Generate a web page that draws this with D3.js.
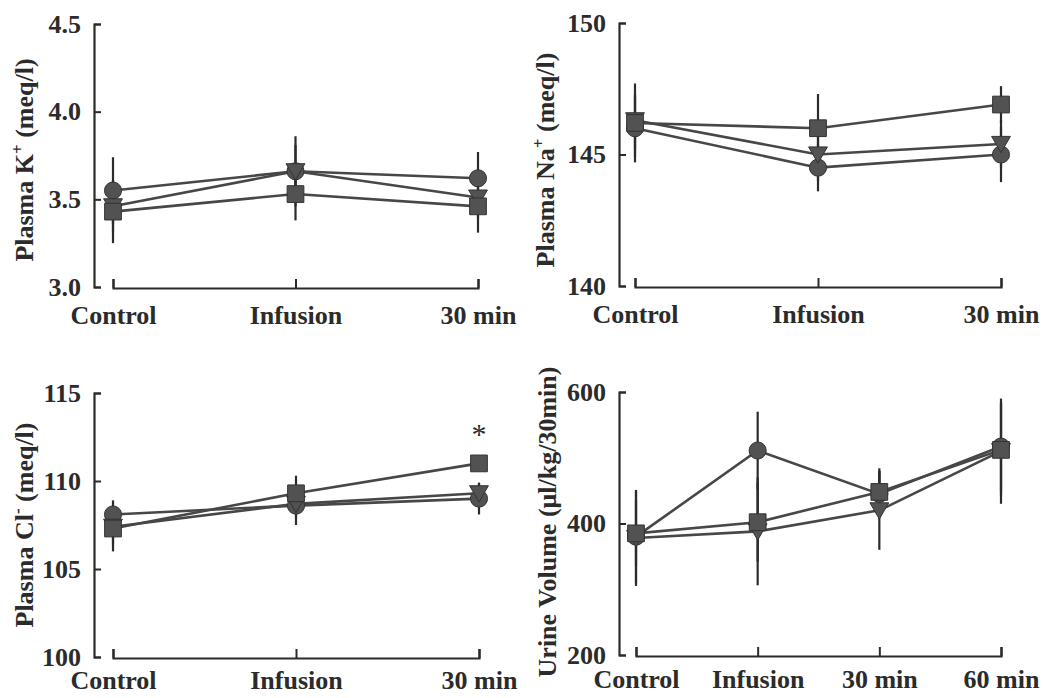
<!DOCTYPE html>
<html><head><meta charset="utf-8">
<script src="https://cdn.jsdelivr.net/npm/d3@7"></script>
<style>body{margin:0;background:#fff}</style>
</head><body>
<svg id="c" width="1043" height="698"></svg>
<script>
// ---- data ----
const catsA = ["Control", "Infusion", "30 min"];
const catsB = ["Control", "Infusion", "30 min", "60 min"];

const kTicks = [3.0, 3.5, 4.0, 4.5];
const kCircle = [3.55, 3.66, 3.62], kCircleErr = [0.19, 0.20, 0.15];
const kTri = [3.46, 3.66, 3.51], kTriErr = [0.15, 0.15, 0.12];
const kSquare = [3.43, 3.53, 3.46], kSquareErr = [0.18, 0.15, 0.15];

const naTicks = [140, 145, 150];
const naCircle = [146.0, 144.5, 145.0], naCircleErr = [1.3, 0.9, 1.05];
const naTri = [146.3, 145.0, 145.4], naTriErr = [1.4, 1.0, 0.9];
const naSquare = [146.2, 146.0, 146.9], naSquareErr = [1.0, 1.3, 0.7];

const clTicks = [100, 105, 110, 115];
const clCircle = [108.1, 108.6, 109.0], clCircleErr = [0.8, 1.1, 0.9];
const clTri = [107.4, 108.7, 109.3], clTriErr = [1.0, 0.8, 0.6];
const clSquare = [107.3, 109.3, 111.0], clSquareErr = [1.3, 1.0, 0.3];
const clSig = ["", "", "*"]; // significance marks (square series)

const uvTicks = [200, 400, 600];
const uvCircle = [380, 511, 445, 517], uvCircleErr = [71, 59, 35, 68];
const uvTri = [378, 388, 420, 510], uvTriErr = [73, 82, 60, 80];
const uvSquare = [385, 402, 448, 512], uvSquareErr = [50, 60, 36, 70];

// ---- drawing ----
const svg = d3.select("#c");
const FONT = "'Liberation Serif','Times New Roman',serif";
const INK = "#2b2b2b";
const LINE = "#474747";
const FILL = "#525252";

const triDown = {
  draw(ctx, size) {
    const w = Math.sqrt(size) * 0.62, h = Math.sqrt(size) * 0.5;
    ctx.moveTo(-w, -h);
    ctx.lineTo(w, -h);
    ctx.lineTo(0, h * 1.15);
    ctx.closePath();
  }
};

function panel(cfg) {
  const g = svg.append("g");
  const y = d3.scaleLinear().domain(cfg.domain).range([cfg.bottom, cfg.top]);
  const x = d3.scalePoint().domain(cfg.cats).range([cfg.x0, cfg.x1]);

  // y axis
  const ya = g.append("g").attr("transform", `translate(${cfg.ax},0)`)
    .call(d3.axisLeft(y).tickValues(cfg.ticks).tickFormat(cfg.fmt)
      .tickSize(-7).tickSizeOuter(-7).tickPadding(13));
  ya.select(".domain").attr("stroke", INK).attr("stroke-width", 2.2);
  ya.selectAll(".tick line").attr("stroke", INK).attr("stroke-width", 2);
  ya.selectAll("text").attr("font-family", FONT).attr("font-weight", "bold")
    .attr("font-size", 26).attr("fill", INK);

  // x axis
  const xa = g.append("g").attr("transform", `translate(0,${cfg.bottom + 1})`)
    .call(d3.axisBottom(x).tickSize(-9).tickSizeOuter(-9).tickPadding(cfg.xpad));
  xa.select(".domain").attr("stroke", INK).attr("stroke-width", 2.2);
  xa.selectAll(".tick line").attr("stroke", INK).attr("stroke-width", 2);
  xa.selectAll("text").attr("font-family", FONT).attr("font-weight", "bold")
    .attr("font-size", 26).attr("fill", INK);

  // y label
  const lab = g.append("text")
    .attr("transform", `translate(${cfg.lx},${cfg.ly}) rotate(-90)`)
    .attr("text-anchor", "middle")
    .attr("font-family", FONT).attr("font-weight", "bold")
    .attr("font-size", 26).attr("fill", INK);
  lab.append("tspan").text(cfg.label[0]);
  if (cfg.label.length > 1) {
    lab.append("tspan").attr("dy", -10).attr("font-size", 17).text(cfg.label[1]);
    lab.append("tspan").attr("dy", 10).text(cfg.label[2]);
  }

  // lines
  const line = d3.line().x((d, i) => x(cfg.cats[i])).y(d => y(d));
  cfg.series.forEach(s => {
    g.append("path").attr("d", line(s.v)).attr("fill", "none")
      .attr("stroke", LINE).attr("stroke-width", 2.6);
  });
  // error bars
  cfg.series.forEach(s => {
    g.selectAll(null).data(s.v).enter().append("line")
      .attr("x1", (d, i) => x(cfg.cats[i])).attr("x2", (d, i) => x(cfg.cats[i]))
      .attr("y1", (d, i) => y(d - s.e[i])).attr("y2", (d, i) => y(d + s.e[i]))
      .attr("stroke", INK).attr("stroke-width", 2.2);
  });
  // markers
  cfg.series.forEach(s => {
    g.selectAll(null).data(s.v).enter().append("path")
      .attr("d", d3.symbol().type(s.type).size(s.size))
      .attr("transform", (d, i) => `translate(${x(cfg.cats[i])},${y(d)})`)
      .attr("fill", FILL).attr("stroke", "#333").attr("stroke-width", 1);
  });
  return {x, y, g};
}

function seriesSet(c, ce, t, te, s, se) {
  return [
    {v: c, e: ce, type: d3.symbolCircle, size: 230},
    {v: t, e: te, type: triDown, size: 230},
    {v: s, e: se, type: d3.symbolSquare, size: 280}
  ];
}

panel({
  cats: catsA, domain: [3.0, 4.5], ticks: kTicks, fmt: d3.format(".1f"),
  ax: 94, top: 24, bottom: 287, x0: 113, x1: 478, xpad: 18,
  lx: 33, ly: 160, label: ["Plasma K", "+", " (meq/l)"],
  series: seriesSet(kCircle, kCircleErr, kTri, kTriErr, kSquare, kSquareErr)
});

panel({
  cats: catsA, domain: [140, 150], ticks: naTicks, fmt: d3.format("d"),
  ax: 619, top: 23, bottom: 286, x0: 635, x1: 1001, xpad: 18,
  lx: 554, ly: 160, label: ["Plasma Na", "+", " (meq/l)"],
  series: seriesSet(naCircle, naCircleErr, naTri, naTriErr, naSquare, naSquareErr)
});

const p3 = panel({
  cats: catsA, domain: [100, 115], ticks: clTicks, fmt: d3.format("d"),
  ax: 94, top: 393, bottom: 657, x0: 113, x1: 479, xpad: 13,
  lx: 33, ly: 525, label: ["Plasma Cl", "-", " (meq/l)"],
  series: seriesSet(clCircle, clCircleErr, clTri, clTriErr, clSquare, clSquareErr)
});
p3.g.selectAll(null).data(clSig).enter().append("text")
  .attr("x", (d, i) => p3.x(catsA[i]))
  .attr("y", (d, i) => p3.y(clSquare[i]) - 19)
  .attr("text-anchor", "middle")
  .attr("font-family", FONT).attr("font-size", 30).attr("fill", INK)
  .text(d => d);

panel({
  cats: catsB, domain: [200, 600], ticks: uvTicks, fmt: d3.format("d"),
  ax: 619, top: 392, bottom: 655, x0: 636, x1: 1001, xpad: 14,
  lx: 556, ly: 522, label: ["Urine Volume (\u03bcl/kg/30min)"],
  series: seriesSet(uvCircle, uvCircleErr, uvTri, uvTriErr, uvSquare, uvSquareErr)
});
</script>
</body></html>
